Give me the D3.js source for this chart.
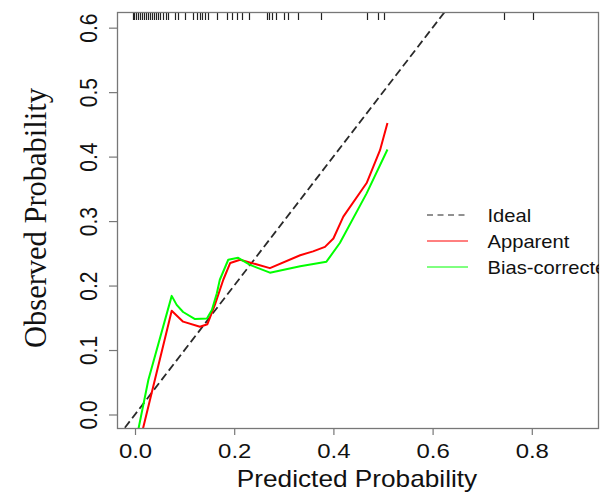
<!DOCTYPE html>
<html>
<head>
<meta charset="utf-8">
<script src="https://cdn.jsdelivr.net/npm/d3@7"></script>
<style>
  html, body { margin: 0; padding: 0; background: #fff; }
  svg { display: block; }
</style>
</head>
<body>
<svg id="chart" width="607" height="498"></svg>
<script>
// ---- data ----
const apparentX = [0.016, 0.074, 0.097, 0.131, 0.146, 0.161, 0.178, 0.192, 0.212, 0.272, 0.333, 0.359, 0.383, 0.400, 0.420, 0.467, 0.494, 0.509];
const apparentY = [-0.022, 0.161, 0.144, 0.136, 0.140, 0.170, 0.209, 0.235, 0.240, 0.227, 0.247, 0.253, 0.260, 0.273, 0.307, 0.359, 0.410, 0.452];
const biasX = [0.007, 0.027, 0.074, 0.084, 0.097, 0.121, 0.145, 0.155, 0.165, 0.171, 0.188, 0.208, 0.232, 0.272, 0.333, 0.386, 0.413, 0.467, 0.509];
const biasY = [-0.022, 0.054, 0.184, 0.170, 0.159, 0.148, 0.149, 0.162, 0.188, 0.209, 0.240, 0.243, 0.232, 0.220, 0.230, 0.237, 0.266, 0.343, 0.411];
const rugValues = [-0.005, -0.002, 0.002, 0.006, 0.010, 0.014, 0.018, 0.022, 0.026, 0.030, 0.034, 0.038, 0.042, 0.046, 0.050, 0.056, 0.062, 0.066,
  0.081, 0.087, 0.101, 0.117, 0.125, 0.131, 0.135, 0.141, 0.147, 0.165, 0.185, 0.196, 0.206, 0.216, 0.230,
  0.266, 0.270, 0.276, 0.284, 0.300, 0.308, 0.329, 0.375, 0.468, 0.490, 0.502, 0.744, 0.802];
const xTicks = [0.0, 0.2, 0.4, 0.6, 0.8];
const yTicks = [0.0, 0.1, 0.2, 0.3, 0.4, 0.5, 0.6];
const legendLabels = ["Ideal", "Apparent", "Bias-corrected"];
const legendColors = ["#222222", "#ff0000", "#00ff00"];

// ---- layout ----
const L = 117, R = 599, T = 12, B = 429;
const SX = 1.14; // horizontal stretch of the original picture
const sans = "Liberation Sans, Arial, sans-serif";
const svg = d3.select("#chart");
const x = d3.scaleLinear().domain([-0.0363, 0.9355]).range([L, R]);
const y = d3.scaleLinear().domain([-0.0225, 0.6243]).range([B, T]);

svg.append("defs").append("clipPath").attr("id", "plotclip")
  .append("rect").attr("x", L).attr("y", T).attr("width", R - L).attr("height", B - T);

const plot = svg.append("g").attr("clip-path", "url(#plotclip)");

// ideal diagonal
plot.append("line")
  .attr("x1", x(-0.05)).attr("y1", y(-0.05))
  .attr("x2", x(0.7)).attr("y2", y(0.7))
  .attr("stroke", "#2a2a2a").attr("stroke-width", 1.8)
  .attr("stroke-dasharray", "8,4");

const line = d3.line().x(d => x(d[0])).y(d => y(d[1]));
plot.append("path").datum(apparentX.map((v, i) => [v, apparentY[i]]))
  .attr("d", line).attr("fill", "none").attr("stroke", "#ff0000").attr("stroke-width", 2)
  .attr("stroke-linejoin", "round");
plot.append("path").datum(biasX.map((v, i) => [v, biasY[i]]))
  .attr("d", line).attr("fill", "none").attr("stroke", "#00ff00").attr("stroke-width", 2)
  .attr("stroke-linejoin", "round");

// rug
plot.selectAll("line.rug").data(rugValues).enter().append("line")
  .attr("class", "rug")
  .attr("x1", d => Math.round(x(d)) + 0.5).attr("x2", d => Math.round(x(d)) + 0.5)
  .attr("y1", T).attr("y2", T + 8)
  .attr("stroke", "#222").attr("stroke-width", 1.2);

// box
svg.append("rect").attr("x", L + 0.5).attr("y", T + 0.5).attr("width", R - L - 1).attr("height", B - T - 1)
  .attr("fill", "none").attr("stroke", "#777").attr("stroke-width", 1.3);

// x axis
const xAxis = d3.axisBottom(x).tickValues(xTicks).tickFormat(d3.format(".1f")).tickSize(6).tickPadding(9);
const gx = svg.append("g").attr("transform", `translate(0,${B})`).call(xAxis);
gx.select(".domain").remove();
gx.selectAll(".tick line").attr("stroke", "#777").attr("stroke-width", 1.2);
gx.selectAll(".tick text").attr("font-family", sans)
  .attr("font-size", 21).attr("fill", "#111")
  .attr("y", null).attr("dy", null)
  .attr("transform", `translate(0,29) scale(${SX},1)`);

// y axis
const yAxis = d3.axisLeft(y).tickValues(yTicks).tickFormat(d3.format(".1f")).tickSize(8).tickPadding(0);
const gy = svg.append("g").attr("transform", `translate(${L},0)`).call(yAxis);
gy.select(".domain").remove();
gy.selectAll(".tick line").attr("stroke", "#777").attr("stroke-width", 1.2);
gy.selectAll(".tick text")
  .attr("font-family", sans).attr("font-size", 21).attr("fill", "#111")
  .attr("x", null).attr("dy", null)
  .attr("text-anchor", "middle")
  .attr("transform", `translate(-20,0) scale(${SX},1) rotate(-90)`);

// titles
svg.append("text").attr("transform", `translate(357,487) scale(${SX},1)`)
  .attr("text-anchor", "middle").attr("font-family", sans)
  .attr("font-size", 23).attr("fill", "#111").text("Predicted Probability");
svg.append("text").attr("transform", "translate(46,218) scale(1.05,1) rotate(-90)")
  .attr("text-anchor", "middle").attr("font-family", "Liberation Serif, Times New Roman, serif")
  .attr("font-size", 30.5).attr("fill", "#111").text("Observed Probability");

// legend
const lg = svg.append("g").attr("clip-path", "url(#plotclip)");
legendLabels.forEach((lab, i) => {
  const ly = 215 + i * 26;
  lg.append("line").attr("x1", 427).attr("x2", 468).attr("y1", ly).attr("y2", ly)
    .attr("stroke", legendColors[i]).attr("stroke-width", 1)
    .attr("stroke-dasharray", i === 0 ? "6,4.5" : null);
  lg.append("text").attr("transform", `translate(487.5,${ly + 7}) scale(${SX},1)`)
    .attr("font-family", sans).attr("font-size", 17.7)
    .attr("fill", "#111").text(lab);
});
</script>
</body>
</html>
